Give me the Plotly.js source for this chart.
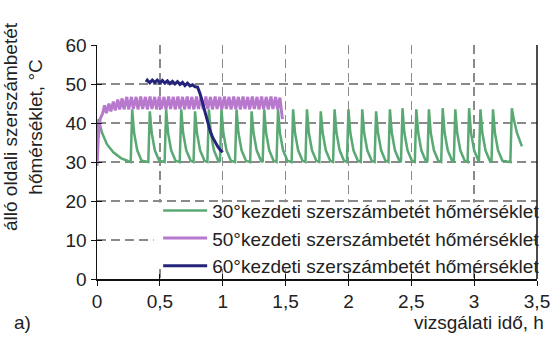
<!DOCTYPE html>
<html>
<head>
<meta charset="utf-8">
<script src="https://cdn.plot.ly/plotly-3.0.1.min.js"></script>
<style>html,body{margin:0;padding:0;background:#fff;}#chart{width:560px;height:338px;}</style>
</head>
<body>
<div id="chart"></div>
<script>
// Series names
const seriesNames = [
  "30°kezdeti szerszámbetét hőmérséklet",
  "50°kezdeti szerszámbetét hőmérséklet",
  "60°kezdeti szerszámbetét hőmérséklet"
];

// 30° start (green) — time [h], temperature [°C]
const t30 = [0, 0.012, 0.04, 0.08, 0.13, 0.19, 0.25,
  0.268, 0.28, 0.295, 0.32, 0.355,
  0.408, 0.42, 0.435, 0.46, 0.495,
  0.538, 0.55, 0.565, 0.59, 0.625,
  0.658, 0.67, 0.685, 0.71, 0.745,
  0.768, 0.78, 0.795, 0.82, 0.855,
  0.878, 0.89, 0.905, 0.93, 0.965,
  0.978, 0.99, 1.005, 1.03, 1.065,
  1.098, 1.11, 1.125, 1.15, 1.185,
  1.218, 1.23, 1.245, 1.27, 1.305,
  1.318, 1.33, 1.345, 1.37, 1.405,
  1.428, 1.44, 1.455, 1.48, 1.515,
  1.548, 1.56, 1.575, 1.60, 1.635,
  1.658, 1.67, 1.685, 1.71, 1.745,
  1.768, 1.78, 1.795, 1.82, 1.855,
  1.878, 1.89, 1.905, 1.93, 1.965,
  1.988, 2.00, 2.015, 2.04, 2.075,
  2.098, 2.11, 2.125, 2.15, 2.185,
  2.208, 2.22, 2.235, 2.26, 2.295,
  2.318, 2.33, 2.345, 2.37, 2.405,
  2.418, 2.43, 2.445, 2.47, 2.505,
  2.528, 2.54, 2.555, 2.58, 2.615,
  2.628, 2.64, 2.655, 2.68, 2.715,
  2.738, 2.75, 2.765, 2.79, 2.825,
  2.838, 2.85, 2.865, 2.89, 2.925,
  2.948, 2.96, 2.975, 3.00, 3.035,
  3.038, 3.05, 3.065, 3.09, 3.125,
  3.138, 3.15, 3.165, 3.19, 3.225,
  3.288, 3.30, 3.315, 3.34, 3.38];
const v30 = [31, 41, 37.5, 34.5, 32.5, 31, 30.2,
  30, 43.5, 37.5, 33, 30.3,
  30, 43, 37.5, 33, 30.3,
  30, 43.5, 37.5, 33, 30.3,
  30, 43.5, 37.5, 33, 30.3,
  30, 43, 37.5, 33, 30.3,
  30, 43.5, 37.5, 33, 30.3,
  30, 43.5, 37.5, 33, 30.3,
  30, 43.5, 37.5, 33, 30.3,
  30, 43, 37.5, 33, 30.3,
  30, 43.5, 37.5, 33, 30.3,
  30, 43.5, 37.5, 33, 30.3,
  30, 43.5, 37.5, 33, 30.3,
  30, 43.5, 37.5, 33, 30.3,
  30, 43, 37.5, 33, 30.3,
  30, 43.5, 37.5, 33, 30.3,
  30, 43.5, 37.5, 33, 30.3,
  30, 43.5, 37.5, 33, 30.3,
  30, 43, 37.5, 33, 30.3,
  30, 43.5, 37.5, 33, 30.3,
  30, 43.8, 37.5, 33, 30.3,
  30, 43.5, 37.5, 33, 30.3,
  30, 43.5, 37.5, 33, 30.3,
  30, 43.8, 37.5, 33, 30.3,
  30, 43.5, 37.5, 33, 30.3,
  30, 43.8, 37.5, 33, 30.3,
  30, 43.5, 37.5, 33, 30.3,
  30, 43.5, 37.5, 33, 30.3,
  30, 43.8, 41, 37.5, 34];

// 50° start (purple)
const t50 = [0, 0.01, 0.025, 0.045, 0.06, 0.075, 0.095, 0.11, 0.13, 0.145, 0.165, 0.18,
  0.2, 0.215, 0.237, 0.252, 0.274, 0.289, 0.311, 0.326, 0.348, 0.363, 0.385, 0.40,
  0.422, 0.437, 0.459, 0.474, 0.496, 0.511, 0.533, 0.548, 0.57, 0.585, 0.607, 0.622,
  0.644, 0.659, 0.681, 0.696, 0.718, 0.733, 0.755, 0.77, 0.792, 0.807, 0.829, 0.844,
  0.866, 0.881, 0.903, 0.918, 0.94, 0.955, 0.977, 0.992, 1.014, 1.029, 1.051, 1.066,
  1.088, 1.103, 1.125, 1.14, 1.162, 1.177, 1.199, 1.214, 1.236, 1.251, 1.273, 1.288,
  1.31, 1.325, 1.347, 1.362, 1.384, 1.399, 1.421, 1.436, 1.455, 1.465, 1.475];
const v50 = [29, 36, 41, 42.5, 44.5, 42.5, 45, 43, 45.5, 43.2, 46, 43.5,
  46.3, 43.5, 46.7, 43.5, 46.7, 43.6, 46.7, 43.5, 46.8, 43.6, 46.7, 43.5,
  46.8, 43.6, 46.7, 43.5, 46.8, 43.6, 46.7, 43.5, 46.8, 43.6, 46.7, 43.5,
  46.8, 43.6, 46.7, 43.5, 46.8, 43.6, 46.7, 43.5, 46.8, 43.6, 46.7, 43.5,
  46.8, 43.6, 46.7, 43.5, 46.8, 43.6, 46.7, 43.5, 46.8, 43.6, 46.7, 43.5,
  46.8, 43.6, 46.7, 43.5, 46.8, 43.6, 46.7, 43.5, 46.8, 43.6, 46.7, 43.5,
  46.8, 43.6, 46.7, 43.5, 46.8, 43.6, 46.7, 43.5, 46.5, 43.5, 41];

// 60° start (dark blue)
const t60 = [0.39, 0.40, 0.42, 0.44, 0.46, 0.48, 0.50, 0.52, 0.54, 0.56, 0.58, 0.60,
  0.62, 0.64, 0.66, 0.68, 0.70, 0.72, 0.74, 0.76, 0.78, 0.80, 0.82, 0.84, 0.86,
  0.88, 0.90, 0.92, 0.94, 0.96, 0.98, 1.0];
const v60 = [50.5, 51, 50.3, 51, 50.4, 51, 50.3, 50.9, 50.2, 50.8, 50.1, 50.7,
  50.0, 50.6, 49.9, 50.4, 49.6, 50.2, 49.5, 49.8, 49.3, 49.2, 47.5, 45, 42.3,
  40, 38, 36.3, 35, 34, 33.1, 32.5];

// Axis ticks
const xTicks = [0, 0.5, 1, 1.5, 2, 2.5, 3, 3.5];
const yTicks = [0, 10, 20, 30, 40, 50, 60];

const FONT = "Liberation Sans, Arial, sans-serif";
const FS = 19;

const traces = [
  {x: t30, y: v30, name: seriesNames[0], mode: "lines", line: {color: "rgb(90,168,115)", width: 2.5}},
  {x: t50, y: v50, name: seriesNames[1], mode: "lines", line: {color: "rgb(184,120,206)", width: 3}},
  {x: t60, y: v60, name: seriesNames[2], mode: "lines", line: {color: "rgb(36,36,122)", width: 3}},
  // helper so tick marks cross the axes
  {x: [0], y: [0], xaxis: "x2", yaxis: "y2", mode: "markers", marker: {opacity: 0}, showlegend: false, hoverinfo: "skip"}
];

const layout = {
  width: 560, height: 338,
  margin: {l: 97, r: 23, t: 45, b: 59},
  paper_bgcolor: "#fff", plot_bgcolor: "#fff",
  separators: ", ",
  font: {family: FONT, size: FS, color: "#222"},
  showlegend: true,
  legend: {
    x: 0.139, y: -0.028, xanchor: "left", yanchor: "bottom",
    bgcolor: "rgba(0,0,0,0)", borderwidth: 0,
    font: {family: FONT, size: FS, color: "#222"},
    tracegroupgap: 0, itemwidth: 44
  },
  xaxis: {
    range: [0, 3.5], tickvals: xTicks, ticks: "outside", ticklen: 5, tickcolor: "#111",
    showline: true, linecolor: "#111", linewidth: 1.5, mirror: false,
    showgrid: true, gridcolor: "#8a8a8a", gridwidth: 1.3, griddash: "9px,5px",
    zeroline: false, tickfont: {size: FS}
  },
  yaxis: {
    range: [0, 60], tickvals: yTicks, ticks: "outside", ticklen: 5, tickcolor: "#111",
    showline: true, linecolor: "#111", linewidth: 1.5,
    showgrid: true, gridcolor: "#8a8a8a", gridwidth: 1.3, griddash: "9px,5px",
    zeroline: false, tickfont: {size: FS}
  },
  xaxis2: {range: [0, 3.5], overlaying: "x", tickvals: xTicks, ticks: "inside", ticklen: 5, tickcolor: "#111",
    showticklabels: false, showgrid: false, zeroline: false, showline: false},
  yaxis2: {range: [0, 60], overlaying: "y", tickvals: yTicks, ticks: "inside", ticklen: 5, tickcolor: "#111",
    showticklabels: false, showgrid: false, zeroline: false, showline: false},
  shapes: [
    // white backing behind the legend (hides the grid there)
    {type: "rect", xref: "x", yref: "y", x0: 0.45, x1: 3.47, y0: 2.7, y1: 19.6,
      fillcolor: "#fff", line: {width: 0}, layer: "between"},
    {type: "line", xref: "paper", yref: "paper", x0: 1, x1: 1, y0: 0, y1: 1, line: {color: "#111", width: 1.5}}
  ],
  annotations: [
    {text: "álló oldali szerszámbetét<br>hőmérséklet, °C", xref: "paper", yref: "paper",
      x: -0.168, y: 0.65, xanchor: "center", yanchor: "middle", textangle: -90, align: "center",
      showarrow: false, font: {size: 19}},
    {text: "a)", xref: "paper", yref: "paper", x: -0.17, y: -0.184, xanchor: "center", yanchor: "middle", showarrow: false, font: {size: FS}},
    {text: "vizsgálati idő, h", xref: "paper", yref: "paper", x: 1.02, y: -0.184, xanchor: "right", yanchor: "middle", showarrow: false, font: {size: FS}}
  ]
};

Plotly.newPlot("chart", traces, layout, {displayModeBar: false, staticPlot: true});
</script>
</body>
</html>
